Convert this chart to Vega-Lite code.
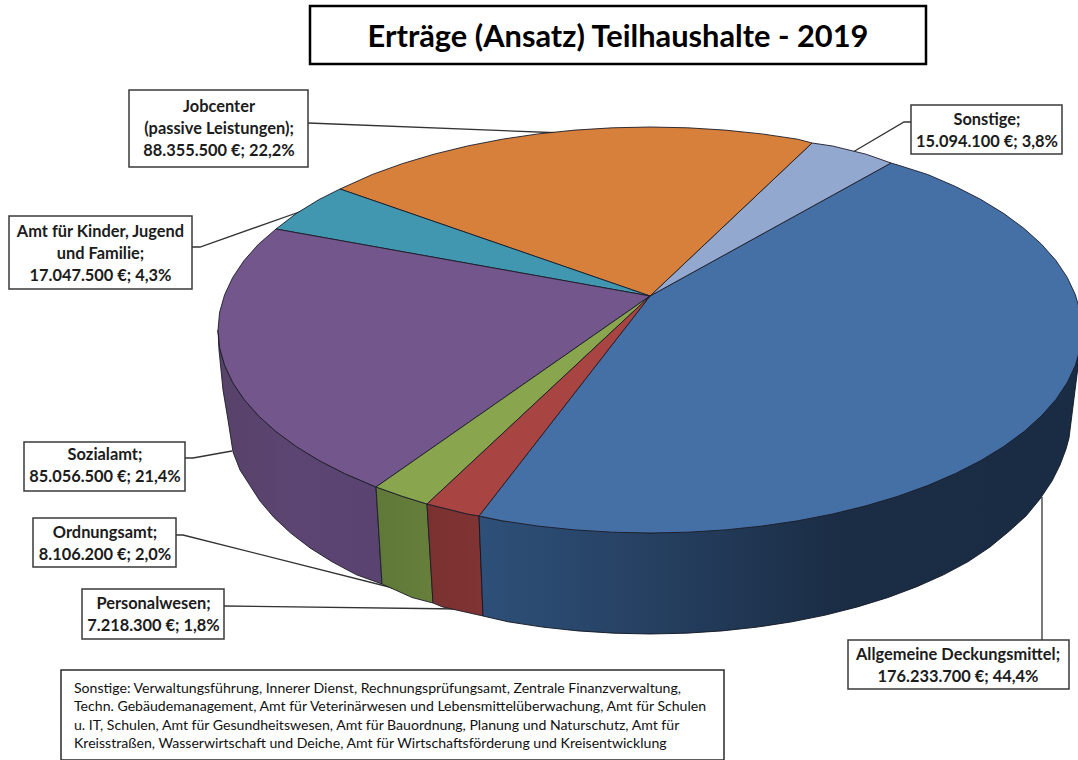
{"$schema":"https://vega.github.io/schema/vega-lite/v6.json","width":1078,"height":760,"padding":0,"autosize":{"type":"none"},"background":"#ffffff","config":{"view":{"stroke":null},"axis":{"disable":true}},
"datasets":{
"walls":[
{"slice":"Sozialamt","i":1,"x":218,"y":330},{"slice":"Sozialamt","i":2,"x":219.6,"y":347.7},{"slice":"Sozialamt","i":3,"x":224.6,"y":365.2},{"slice":"Sozialamt","i":4,"x":232.7,"y":382.5},{"slice":"Sozialamt","i":5,"x":244,"y":399.4},{"slice":"Sozialamt","i":6,"x":258.5,"y":415.8},{"slice":"Sozialamt","i":7,"x":275.9,"y":431.5},{"slice":"Sozialamt","i":8,"x":296.1,"y":446.4},{"slice":"Sozialamt","i":9,"x":319.1,"y":460.5},{"slice":"Sozialamt","i":10,"x":344.5,"y":473.5},{"slice":"Sozialamt","i":11,"x":376,"y":487},{"slice":"Sozialamt","i":12,"x":382,"y":584},{"slice":"Sozialamt","i":13,"x":356.5,"y":574.8},{"slice":"Sozialamt","i":14,"x":332.1,"y":561.8},{"slice":"Sozialamt","i":15,"x":310,"y":547.9},{"slice":"Sozialamt","i":16,"x":290.6,"y":533},{"slice":"Sozialamt","i":17,"x":273.9,"y":517.4},{"slice":"Sozialamt","i":18,"x":260,"y":501.1},{"slice":"Sozialamt","i":19,"x":249.2,"y":484.3},{"slice":"Sozialamt","i":20,"x":240,"y":470},{"slice":"Sozialamt","i":21,"x":233,"y":452},{"slice":"Sozialamt","i":22,"x":228,"y":420},{"slice":"Sozialamt","i":23,"x":223,"y":390},{"slice":"Sozialamt","i":24,"x":219,"y":350},{"slice":"Sozialamt","i":25,"x":218,"y":330},
{"slice":"Ordnungsamt","i":1,"x":376,"y":487},{"slice":"Ordnungsamt","i":2,"x":402.2,"y":496.3},{"slice":"Ordnungsamt","i":3,"x":427,"y":504},{"slice":"Ordnungsamt","i":4,"x":433,"y":603},{"slice":"Ordnungsamt","i":5,"x":412,"y":597.5},{"slice":"Ordnungsamt","i":6,"x":382,"y":584},{"slice":"Ordnungsamt","i":7,"x":376,"y":487},
{"slice":"Personalwesen","i":1,"x":427,"y":504},{"slice":"Personalwesen","i":2,"x":467.4,"y":514},{"slice":"Personalwesen","i":3,"x":479,"y":516},{"slice":"Personalwesen","i":4,"x":483,"y":616},{"slice":"Personalwesen","i":5,"x":442.5,"y":606.9},{"slice":"Personalwesen","i":6,"x":433,"y":603},{"slice":"Personalwesen","i":7,"x":427,"y":504},
{"slice":"Allgemeine","i":1,"x":479,"y":516},{"slice":"Allgemeine","i":2,"x":502.3,"y":520.8},{"slice":"Allgemeine","i":3,"x":650,"y":533},{"slice":"Allgemeine","i":4,"x":797.7,"y":520.8},{"slice":"Allgemeine","i":5,"x":927.7,"y":485.5},{"slice":"Allgemeine","i":6,"x":1024.1,"y":431.5},{"slice":"Allgemeine","i":7,"x":1075.4,"y":365.2},{"slice":"Allgemeine","i":8,"x":1080.4,"y":347.7},{"slice":"Allgemeine","i":9,"x":1069,"y":438},{"slice":"Allgemeine","i":10,"x":1066,"y":449},{"slice":"Allgemeine","i":11,"x":1060,"y":465},{"slice":"Allgemeine","i":12,"x":1052,"y":481},{"slice":"Allgemeine","i":13,"x":1040,"y":499},{"slice":"Allgemeine","i":14,"x":1026,"y":516},{"slice":"Allgemeine","i":15,"x":1009.4,"y":531},{"slice":"Allgemeine","i":16,"x":990,"y":547},{"slice":"Allgemeine","i":17,"x":967.9,"y":561.8},{"slice":"Allgemeine","i":18,"x":943.5,"y":574.8},{"slice":"Allgemeine","i":19,"x":916.8,"y":586.7},{"slice":"Allgemeine","i":20,"x":888,"y":597.5},{"slice":"Allgemeine","i":21,"x":857.5,"y":606.9},{"slice":"Allgemeine","i":22,"x":825.4,"y":615.1},{"slice":"Allgemeine","i":23,"x":791.9,"y":621.8},{"slice":"Allgemeine","i":24,"x":757.4,"y":627.1},{"slice":"Allgemeine","i":25,"x":722,"y":630.9},{"slice":"Allgemeine","i":26,"x":686.2,"y":633.2},{"slice":"Allgemeine","i":27,"x":650,"y":634},{"slice":"Allgemeine","i":28,"x":613.8,"y":633.2},{"slice":"Allgemeine","i":29,"x":578,"y":630.9},{"slice":"Allgemeine","i":30,"x":542.6,"y":627.1},{"slice":"Allgemeine","i":31,"x":508.1,"y":621.8},{"slice":"Allgemeine","i":32,"x":483,"y":616},{"slice":"Allgemeine","i":33,"x":479,"y":516}
],
"faces":[
{"slice":"Allgemeine","i":1,"x":650,"y":296},{"slice":"Allgemeine","i":2,"x":479,"y":516},{"slice":"Allgemeine","i":3,"x":502.3,"y":520.8},{"slice":"Allgemeine","i":4,"x":538.2,"y":526.1},{"slice":"Allgemeine","i":5,"x":575,"y":529.9},{"slice":"Allgemeine","i":6,"x":612.3,"y":532.2},{"slice":"Allgemeine","i":7,"x":650,"y":533},{"slice":"Allgemeine","i":8,"x":687.7,"y":532.2},{"slice":"Allgemeine","i":9,"x":725,"y":529.9},{"slice":"Allgemeine","i":10,"x":761.8,"y":526.1},{"slice":"Allgemeine","i":11,"x":797.7,"y":520.8},{"slice":"Allgemeine","i":12,"x":832.6,"y":514},{"slice":"Allgemeine","i":13,"x":866,"y":505.8},{"slice":"Allgemeine","i":14,"x":897.8,"y":496.3},{"slice":"Allgemeine","i":15,"x":927.7,"y":485.5},{"slice":"Allgemeine","i":16,"x":955.5,"y":473.5},{"slice":"Allgemeine","i":17,"x":980.9,"y":460.5},{"slice":"Allgemeine","i":18,"x":1003.9,"y":446.4},{"slice":"Allgemeine","i":19,"x":1024.1,"y":431.5},{"slice":"Allgemeine","i":20,"x":1041.5,"y":415.8},{"slice":"Allgemeine","i":21,"x":1056,"y":399.4},{"slice":"Allgemeine","i":22,"x":1067.3,"y":382.5},{"slice":"Allgemeine","i":23,"x":1075.4,"y":365.2},{"slice":"Allgemeine","i":24,"x":1080.4,"y":347.7},{"slice":"Allgemeine","i":25,"x":1082,"y":330},{"slice":"Allgemeine","i":26,"x":1080.4,"y":312.3},{"slice":"Allgemeine","i":27,"x":1075.4,"y":294.8},{"slice":"Allgemeine","i":28,"x":1067.3,"y":277.5},{"slice":"Allgemeine","i":29,"x":1056,"y":260.6},{"slice":"Allgemeine","i":30,"x":1041.5,"y":244.2},{"slice":"Allgemeine","i":31,"x":1024.1,"y":228.5},{"slice":"Allgemeine","i":32,"x":1003.9,"y":213.6},{"slice":"Allgemeine","i":33,"x":980.9,"y":199.5},{"slice":"Allgemeine","i":34,"x":955.5,"y":186.5},{"slice":"Allgemeine","i":35,"x":927.7,"y":174.5},{"slice":"Allgemeine","i":36,"x":897.8,"y":165},{"slice":"Allgemeine","i":37,"x":891,"y":163},{"slice":"Allgemeine","i":38,"x":650,"y":296},
{"slice":"Sonstige","i":1,"x":650,"y":296},{"slice":"Sonstige","i":2,"x":891,"y":163},{"slice":"Sonstige","i":3,"x":866,"y":154.2},{"slice":"Sonstige","i":4,"x":832.6,"y":146},{"slice":"Sonstige","i":5,"x":812,"y":143},{"slice":"Sonstige","i":6,"x":650,"y":296},
{"slice":"Jobcenter","i":1,"x":650,"y":296},{"slice":"Jobcenter","i":2,"x":812,"y":143},{"slice":"Jobcenter","i":3,"x":797.7,"y":139.2},{"slice":"Jobcenter","i":4,"x":761.8,"y":133.9},{"slice":"Jobcenter","i":5,"x":725,"y":130.1},{"slice":"Jobcenter","i":6,"x":687.7,"y":127.8},{"slice":"Jobcenter","i":7,"x":650,"y":127},{"slice":"Jobcenter","i":8,"x":612.3,"y":127.8},{"slice":"Jobcenter","i":9,"x":575,"y":130.1},{"slice":"Jobcenter","i":10,"x":538.2,"y":133.9},{"slice":"Jobcenter","i":11,"x":502.3,"y":139.2},{"slice":"Jobcenter","i":12,"x":467.4,"y":146},{"slice":"Jobcenter","i":13,"x":434,"y":154.2},{"slice":"Jobcenter","i":14,"x":402.2,"y":163.7},{"slice":"Jobcenter","i":15,"x":372.3,"y":174.5},{"slice":"Jobcenter","i":16,"x":340,"y":189},{"slice":"Jobcenter","i":17,"x":650,"y":296},
{"slice":"Kinder","i":1,"x":650,"y":296},{"slice":"Kinder","i":2,"x":340,"y":189},{"slice":"Kinder","i":3,"x":319.1,"y":199.5},{"slice":"Kinder","i":4,"x":296.1,"y":213.6},{"slice":"Kinder","i":5,"x":276,"y":229},{"slice":"Kinder","i":6,"x":650,"y":296},
{"slice":"Sozialamt","i":1,"x":650,"y":296},{"slice":"Sozialamt","i":2,"x":276,"y":229},{"slice":"Sozialamt","i":3,"x":258.5,"y":244.2},{"slice":"Sozialamt","i":4,"x":244,"y":260.6},{"slice":"Sozialamt","i":5,"x":232.7,"y":277.5},{"slice":"Sozialamt","i":6,"x":224.6,"y":294.8},{"slice":"Sozialamt","i":7,"x":219.6,"y":312.3},{"slice":"Sozialamt","i":8,"x":218,"y":330},{"slice":"Sozialamt","i":9,"x":219.6,"y":347.7},{"slice":"Sozialamt","i":10,"x":224.6,"y":365.2},{"slice":"Sozialamt","i":11,"x":232.7,"y":382.5},{"slice":"Sozialamt","i":12,"x":244,"y":399.4},{"slice":"Sozialamt","i":13,"x":258.5,"y":415.8},{"slice":"Sozialamt","i":14,"x":275.9,"y":431.5},{"slice":"Sozialamt","i":15,"x":296.1,"y":446.4},{"slice":"Sozialamt","i":16,"x":319.1,"y":460.5},{"slice":"Sozialamt","i":17,"x":344.5,"y":473.5},{"slice":"Sozialamt","i":18,"x":376,"y":487},{"slice":"Sozialamt","i":19,"x":650,"y":296},
{"slice":"Ordnungsamt","i":1,"x":650,"y":296},{"slice":"Ordnungsamt","i":2,"x":376,"y":487},{"slice":"Ordnungsamt","i":3,"x":402.2,"y":496.3},{"slice":"Ordnungsamt","i":4,"x":427,"y":504},{"slice":"Ordnungsamt","i":5,"x":650,"y":296},
{"slice":"Personalwesen","i":1,"x":650,"y":296},{"slice":"Personalwesen","i":2,"x":427,"y":504},{"slice":"Personalwesen","i":3,"x":467.4,"y":514},{"slice":"Personalwesen","i":4,"x":479,"y":516},{"slice":"Personalwesen","i":5,"x":650,"y":296}
],
"leaders":[
{"to":"Jobcenter","i":1,"x":308,"y":123},{"to":"Jobcenter","i":2,"x":563,"y":133},
{"to":"Sonstige","i":1,"x":911,"y":122},{"to":"Sonstige","i":2,"x":904,"y":122},{"to":"Sonstige","i":3,"x":853,"y":152},
{"to":"Kinder","i":1,"x":192,"y":247},{"to":"Kinder","i":2,"x":200,"y":247},{"to":"Kinder","i":3,"x":305,"y":210},
{"to":"Sozialamt","i":1,"x":185,"y":458},{"to":"Sozialamt","i":2,"x":193,"y":458},{"to":"Sozialamt","i":3,"x":232,"y":451},
{"to":"Ordnungsamt","i":1,"x":176,"y":535},{"to":"Ordnungsamt","i":2,"x":183,"y":535},{"to":"Ordnungsamt","i":3,"x":405,"y":591},
{"to":"Personalwesen","i":1,"x":224,"y":606},{"to":"Personalwesen","i":2,"x":460,"y":609},
{"to":"Allgemeine","i":1,"x":1042,"y":640},{"to":"Allgemeine","i":2,"x":1042,"y":497}
],
"labels":[
{"label":"Jobcenter\n(passive Leistungen);\n88.355.500 €; 22,2%","x0":129,"x1":308,"y0":90,"y1":167,"x":219,"y":107},
{"label":"Sonstige;\n15.094.100 €; 3,8%","x0":911,"x1":1062,"y0":105,"y1":154,"x":987,"y":120},
{"label":"Amt für Kinder, Jugend\nund Familie;\n17.047.500 €; 4,3%","x0":9,"x1":192,"y0":216,"y1":289,"x":100.5,"y":232},
{"label":"Sozialamt;\n85.056.500 €; 21,4%","x0":24,"x1":185,"y0":442,"y1":491,"x":105,"y":455},
{"label":"Ordnungsamt;\n8.106.200 €; 2,0%","x0":33,"x1":176,"y0":518,"y1":567,"x":105,"y":533},
{"label":"Personalwesen;\n7.218.300 €; 1,8%","x0":82,"x1":224,"y0":589,"y1":639,"x":153.5,"y":604},
{"label":"Allgemeine Deckungsmittel;\n176.233.700 €; 44,4%","x0":848,"x1":1069,"y0":640,"y1":689,"x":958,"y":655}
],
"note":[{"label":"Sonstige: Verwaltungsführung, Innerer Dienst, Rechnungsprüfungsamt, Zentrale Finanzverwaltung,\nTechn. Gebäudemanagement, Amt für Veterinärwesen und Lebensmittelüberwachung, Amt für Schulen\nu. IT, Schulen, Amt für Gesundheitswesen, Amt für Bauordnung, Planung und Naturschutz, Amt für\nKreisstraßen, Wasserwirtschaft und Deiche, Amt für Wirtschaftsförderung und Kreisentwicklung","x0":61,"x1":724,"y0":670,"y1":760,"x":74,"y":689}],
"title":[{"label":"Erträge (Ansatz) Teilhaushalte - 2019","x0":310,"x1":926,"y0":6,"y1":64,"x":618,"y":37.5}]
},
"encoding":{
"x":{"field":"x","type":"quantitative","scale":{"domain":[0,1078]},"axis":null},
"y":{"field":"y","type":"quantitative","scale":{"domain":[760,0]},"axis":null}
},
"layer":[
{"data":{"name":"leaders"},"mark":{"type":"line","stroke":"#333333","strokeWidth":1.3},"encoding":{"detail":{"field":"to"},"order":{"field":"i","type":"quantitative"}}},
{"data":{"name":"walls"},"transform":[{"filter":"datum.slice==='Sozialamt'"}],"mark":{"type":"line","clip":true,"stroke":"#1c1c28","strokeWidth":0.9,"fill":{"gradient":"linear","stops":[{"offset":0,"color":"#574269"},{"offset":0.45,"color":"#5c4572"},{"offset":1,"color":"#594370"}]}},"encoding":{"order":{"field":"i","type":"quantitative"}}},
{"data":{"name":"walls"},"transform":[{"filter":"datum.slice==='Ordnungsamt'"}],"mark":{"type":"line","clip":true,"stroke":"#1c1c28","strokeWidth":0.9,"fill":{"gradient":"linear","stops":[{"offset":0,"color":"#607838"},{"offset":1,"color":"#677f3b"}]}},"encoding":{"order":{"field":"i","type":"quantitative"}}},
{"data":{"name":"walls"},"transform":[{"filter":"datum.slice==='Personalwesen'"}],"mark":{"type":"line","clip":true,"stroke":"#1c1c28","strokeWidth":0.9,"fill":{"gradient":"linear","stops":[{"offset":0,"color":"#7a3130"},{"offset":1,"color":"#803433"}]}},"encoding":{"order":{"field":"i","type":"quantitative"}}},
{"data":{"name":"walls"},"transform":[{"filter":"datum.slice==='Allgemeine'"}],"mark":{"type":"line","clip":true,"stroke":"#10151f","strokeWidth":0.9,"fill":{"gradient":"linear","stops":[{"offset":0,"color":"#2e5078"},{"offset":0.3,"color":"#253f60"},{"offset":0.6,"color":"#1b2d45"},{"offset":1,"color":"#1a2c44"}]}},"encoding":{"order":{"field":"i","type":"quantitative"}}},
{"data":{"name":"faces"},"mark":{"type":"line","clip":true,"stroke":"#1c1c28","strokeWidth":0.9},"encoding":{"detail":{"field":"slice"},"order":{"field":"i","type":"quantitative"},"fill":{"field":"slice","type":"nominal","legend":null,"scale":{"domain":["Allgemeine","Sonstige","Jobcenter","Kinder","Sozialamt","Ordnungsamt","Personalwesen"],"range":["#4570a6","#92a8cf","#d7803b","#4197b0","#72568c","#89a54e","#a84442"]}}}},
{"data":{"name":"labels"},"mark":{"type":"rect","fill":"#ffffff","stroke":"#3a3a3a","strokeWidth":1.5},"encoding":{"x":{"field":"x0","type":"quantitative","scale":{"domain":[0,1078]},"axis":null},"x2":{"field":"x1"},"y":{"field":"y0","type":"quantitative","scale":{"domain":[760,0]},"axis":null},"y2":{"field":"y1"}}},
{"data":{"name":"labels"},"mark":{"type":"text","font":"Lato","fontWeight":"bold","fontSize":16.4,"lineBreak":"\n","lineHeight":22,"align":"center","baseline":"middle","fill":"#1c1c1c"},"encoding":{"text":{"field":"label"}}},
{"data":{"name":"note"},"mark":{"type":"rect","fill":"#ffffff","stroke":"#2a2a2a","strokeWidth":1.5},"encoding":{"x":{"field":"x0","type":"quantitative","scale":{"domain":[0,1078]},"axis":null},"x2":{"field":"x1"},"y":{"field":"y0","type":"quantitative","scale":{"domain":[760,0]},"axis":null},"y2":{"field":"y1"}}},
{"data":{"name":"note"},"mark":{"type":"text","font":"Lato","fontSize":14.1,"lineBreak":"\n","lineHeight":18.4,"align":"left","baseline":"middle","fill":"#111111"},"encoding":{"text":{"field":"label"}}},
{"data":{"name":"title"},"mark":{"type":"rect","fill":"#ffffff","stroke":"#000000","strokeWidth":2.5},"encoding":{"x":{"field":"x0","type":"quantitative","scale":{"domain":[0,1078]},"axis":null},"x2":{"field":"x1"},"y":{"field":"y0","type":"quantitative","scale":{"domain":[760,0]},"axis":null},"y2":{"field":"y1"}}},
{"data":{"name":"title"},"mark":{"type":"text","font":"Lato","fontWeight":"bold","fontSize":30.8,"align":"center","baseline":"middle","fill":"#000000"},"encoding":{"text":{"field":"label"}}}
]}
